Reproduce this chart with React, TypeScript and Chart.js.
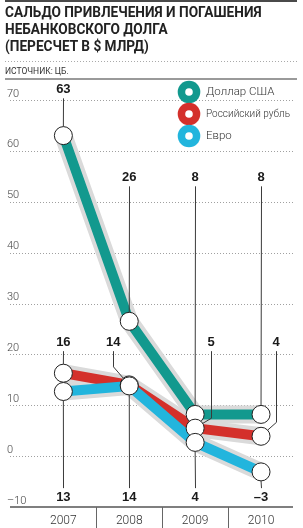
import React, { useEffect, useRef } from "react";
import { Chart, registerables } from "chart.js";

Chart.register(...registerables);

const years = ["2007", "2008", "2009", "2010"];
const seriesNames = ["Доллар США", "Российский рубль", "Евро"];
const dollarValues = [63, 26.5, 8.2, 8.2];
const rubleValues = [16.3, 14, 5.5, 3.9];
const euroValues = [12.7, 13.8, 2.7, -3.1];
const dollarLabels = ["63", "26", "8", "8"];
const rubleLabels = ["16", "14", "5", "4"];
const euroLabels = ["13", "14", "4", "–3"];
const yTicks = [70, 60, 50, 40, 30, 20, 10, 0, -10];

const COLORS = ["#12998e", "#d4302b", "#22b5dd"];
const HALO = "#dadada";

// label placement (value units for rows, pixel offsets for x / elbows)
const labelRows = [
  [72.1, 54.8, 54.8, 54.8],
  [22.4, 22.4, 22.4, 22.4],
  [-8.06, -8.06, -8.06, -8.06],
];
const labelDx = [
  [0, 0, 0, 0],
  [0, -16, 16, 15],
  [0, 0, 0, 0],
];
const elbowUp = [
  [0, 0, 0, 0],
  [0, 18, 10, 14],
  [0, 0, 0, 0],
];

const allValues = [dollarValues, rubleValues, euroValues];
const allLabels = [dollarLabels, rubleLabels, euroLabels];

const R = 9;

const decor = {
  id: "decor",
  beforeDatasetsDraw(chart: any) {
    const { ctx, chartArea, scales } = chart;
    const { left, right, bottom } = chartArea;
    const x = scales.x;
    const y = scales.y;
    ctx.save();
    // header rules
    ctx.fillStyle = "#4a4a4a";
    ctx.fillRect(5, 0, 292, 2);
    ctx.strokeStyle = "#aaaaaa";
    ctx.lineWidth = 1;
    ctx.setLineDash([1, 2]);
    ctx.beginPath();
    ctx.moveTo(5, 61.5);
    ctx.lineTo(297, 61.5);
    ctx.stroke();
    ctx.setLineDash([]);
    ctx.fillStyle = "#9a9a9a";
    ctx.fillRect(5, 78, 292, 2);

    // grid
    ctx.strokeStyle = "#a0a0a0";
    ctx.setLineDash([1, 2]);
    for (const t of yTicks) {
      if (t <= -10) continue;
      const py = Math.round(y.getPixelForValue(t)) + 0.5;
      ctx.beginPath();
      ctx.moveTo(left, py);
      ctx.lineTo(right, py);
      ctx.stroke();
    }
    ctx.setLineDash([]);
    // axis line
    ctx.strokeStyle = "#555";
    ctx.lineWidth = 1.5;
    ctx.beginPath();
    ctx.moveTo(left, bottom);
    ctx.lineTo(right, bottom);
    ctx.stroke();
    // separators
    ctx.lineWidth = 1;
    ctx.strokeStyle = "#666";
    for (let i = 0; i < years.length - 1; i++) {
      const px = Math.round(x.getPixelForValue(i + 0.5)) + 0.5;
      ctx.beginPath();
      ctx.moveTo(px, bottom);
      ctx.lineTo(px, chart.height);
      ctx.stroke();
    }
    // y tick labels
    ctx.font = "300 11px Roboto";
    ctx.fillStyle = "#444";
    ctx.textAlign = "left";
    ctx.textBaseline = "alphabetic";
    for (const t of yTicks) {
      const py = y.getPixelForValue(t);
      ctx.fillText(t < 0 ? "–" + Math.abs(t) : String(t), 7, py - 3.5);
    }
    // years
    ctx.textAlign = "center";
    ctx.textBaseline = "middle";
    ctx.font = "300 12px Roboto";
    ctx.fillStyle = "#333";
    years.forEach((yr, i) => {
      ctx.fillText(yr, x.getPixelForValue(i), 521);
    });
    ctx.restore();
  },
  afterDatasetsDraw(chart: any) {
    const { ctx, scales } = chart;
    const x = scales.x;
    const y = scales.y;
    ctx.save();
    ctx.strokeStyle = "#3a3a3a";
    ctx.lineWidth = 1;
    ctx.font = "bold 13px 'Liberation Sans'";
    ctx.textAlign = "center";
    ctx.textBaseline = "middle";
    ctx.fillStyle = "#1a1a1a";
    allValues.forEach((vals, s) => {
      vals.forEach((v, i) => {
        const px = x.getPixelForValue(i);
        const py = y.getPixelForValue(v);
        const lx = px + labelDx[s][i];
        const ly = y.getPixelForValue(labelRows[s][i]);
        const below = ly > py;
        const startY = below ? ly - 9 : ly + 9;
        const pts: [number, number][] = [[lx, startY]];
        if (elbowUp[s][i]) pts.push([lx, py - elbowUp[s][i]]);
        const last = pts[pts.length - 1];
        let tx = px, ty = py;
        const dx = tx - last[0], dy = ty - last[1];
        const d = Math.hypot(dx, dy);
        tx = tx - (dx / d) * R;
        ty = ty - (dy / d) * R;
        pts.push([tx, ty]);
        ctx.beginPath();
        pts.forEach(([a, b], k) => {
          const xx = Math.round(a) + 0.5;
          if (k === 0) ctx.moveTo(xx, b);
          else ctx.lineTo(k === pts.length - 1 ? a : xx, b);
        });
        ctx.stroke();
        ctx.fillText(allLabels[s][i], lx, ly);
      });
    });

    // legend
    seriesNames.forEach((name, i) => {
      const cx = 189;
      const cy = 92 + i * 22;
      ctx.beginPath();
      ctx.arc(cx, cy, 11.3, 0, Math.PI * 2);
      ctx.fillStyle = COLORS[i];
      ctx.fill();
      ctx.beginPath();
      ctx.arc(cx, cy, 3.8, 0, Math.PI * 2);
      ctx.fillStyle = "#fff";
      ctx.fill();
      ctx.font = "300 11.5px Roboto";
      ctx.fillStyle = "#333";
      ctx.textAlign = "left";
      ctx.fillText(name, 206, cy, 84);
    });
    ctx.restore();
  },
};

export default function App() {
  const ref = useRef<HTMLCanvasElement>(null);
  useEffect(() => {
    const canvas = ref.current!;
    const pts = (vals: number[]) => vals.map((v, i) => ({ x: i, y: v }));
    const lineOrder = [2.1, 2.3, 2.2];
    const pointOrder = [1.3, 1.2, 1.1];
    const datasets: any[] = [];
    allValues.forEach((vals, s) => {
      datasets.push({
        label: seriesNames[s] + " halo",
        data: pts(vals),
        borderColor: HALO,
        borderWidth: 18,
        borderCapStyle: "round",
        borderJoinStyle: "round",
        pointRadius: 0,
        order: 3,
      });
      datasets.push({
        label: seriesNames[s],
        data: pts(vals),
        borderColor: COLORS[s],
        borderWidth: 10,
        borderCapStyle: "butt",
        borderJoinStyle: "round",
        pointRadius: 0,
        order: lineOrder[s],
      });
      datasets.push({
        label: seriesNames[s] + " points",
        data: pts(vals),
        showLine: false,
        pointRadius: R,
        pointBackgroundColor: "#fff",
        pointBorderColor: "#222",
        pointBorderWidth: 1,
        order: pointOrder[s],
      });
    });
    const chart = new Chart(canvas, {
      type: "line",
      data: { datasets },
      options: {
        responsive: false,
        animation: false,
        events: [],
        layout: { padding: { left: 5, right: 6, top: 100, bottom: 21 } },
        plugins: { legend: { display: false }, tooltip: { enabled: false } },
        scales: {
          x: { type: "linear", min: -0.81, max: 3.485, display: false },
          y: { type: "linear", min: -10, max: 70, display: false },
        },
      },
      plugins: [decor],
    });
    return () => chart.destroy();
  }, []);

  return (
    <div style={{ position: "fixed", left: 0, top: 0, width: 303, height: 528, background: "#fff", overflow: "hidden" }}>
      <canvas ref={ref} width={303} height={528} style={{ position: "absolute", left: 0, top: 0, width: 303, height: 528 }} />
      <div
        style={{
          position: "absolute",
          left: 5,
          top: 4,
          font: "bold 15px Roboto",
          lineHeight: "17px",
          color: "#222",
          whiteSpace: "nowrap",
          transform: "scaleX(0.91)",
          transformOrigin: "0 0",
        }}
      >
        САЛЬДО ПРИВЛЕЧЕНИЯ И ПОГАШЕНИЯ
        <br />
        НЕБАНКОВСКОГО ДОЛГА
        <br />
        (ПЕРЕСЧЕТ В $ МЛРД)
      </div>
      <div
        style={{
          position: "absolute",
          left: 5,
          top: 66,
          font: "8.5px Roboto",
          lineHeight: "10px",
          color: "#333",
          whiteSpace: "nowrap",
        }}
      >
        ИСТОЧНИК: ЦБ.
      </div>
    </div>
  );
}
